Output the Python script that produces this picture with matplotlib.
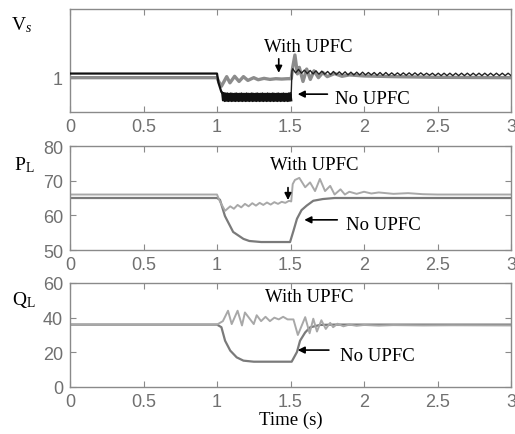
import numpy as np
import matplotlib
matplotlib.use("Agg")
import matplotlib.pyplot as plt

plt.rcParams['mathtext.fontset'] = 'custom'
plt.rcParams['mathtext.rm'] = 'Liberation Serif'
plt.rcParams['mathtext.it'] = 'Liberation Serif:italic'

# ---------------- data ----------------
x_ticks = [0, 0.5, 1, 1.5, 2, 2.5, 3]
x_ticklabels = ['0', '0.5', '1', '1.5', '2', '2.5', '3']

# Vs, No UPFC (black): steady parts + high-frequency band during fault + post-fault ripple
vs_no_t_pre = [0.0, 1.0, 1.01, 1.03]
vs_no_v_pre = [1.012, 1.012, 0.985, 0.958]
vs_no_band_hi = [0.957, 0.955, 0.954, 0.954, 0.953, 0.954, 0.953, 0.953, 0.954, 0.953,
                 0.953, 0.954, 0.953, 0.953, 0.954, 0.953, 0.953, 0.954, 0.953, 0.953,
                 0.954, 0.953, 0.953, 0.954, 0.953, 0.953, 0.954, 0.953, 0.953, 0.954,
                 0.953, 0.953, 0.954, 0.953, 0.953, 0.954, 0.953, 0.953, 0.954, 0.955]
vs_no_band_lo = [0.934, 0.932, 0.933, 0.932, 0.933, 0.932, 0.933, 0.932, 0.933, 0.932,
                 0.933, 0.932, 0.933, 0.932, 0.933, 0.932, 0.933, 0.932, 0.933, 0.932,
                 0.933, 0.932, 0.933, 0.932, 0.933, 0.932, 0.933, 0.932, 0.933, 0.932,
                 0.933, 0.932, 0.933, 0.932, 0.933, 0.932, 0.933, 0.932, 0.933, 0.934]
vs_no_post_hi = [1.026, 1.024, 1.022, 1.021, 1.020, 1.019, 1.018, 1.018, 1.017, 1.017,
                 1.016, 1.016, 1.016, 1.015, 1.015, 1.015, 1.015, 1.014, 1.014, 1.014,
                 1.014, 1.014, 1.014, 1.013, 1.013, 1.013, 1.013, 1.013, 1.013, 1.013,
                 1.013, 1.013, 1.013, 1.013, 1.013, 1.013, 1.013, 1.013]
vs_no_post_lo = [1.014, 1.013, 1.012, 1.011, 1.010, 1.010, 1.009, 1.009, 1.009, 1.008,
                 1.008, 1.008, 1.008, 1.008, 1.007, 1.007, 1.007, 1.007, 1.007, 1.007,
                 1.007, 1.007, 1.007, 1.007, 1.006, 1.006, 1.006, 1.006, 1.006, 1.006,
                 1.006, 1.006, 1.006, 1.006, 1.006, 1.006, 1.006, 1.006]

# Vs, With UPFC (gray)
vs_up_t = [0.0, 1.0, 1.01, 1.03, 1.066, 1.088, 1.12, 1.15, 1.18, 1.21, 1.25, 1.28, 1.32,
           1.36, 1.40, 1.44, 1.48, 1.505, 1.515, 1.53, 1.547, 1.56, 1.585, 1.61, 1.635,
           1.66, 1.69, 1.72, 1.75, 1.8, 1.85, 1.9, 2.0, 2.2, 2.5, 3.0]
vs_up_v = [1.0, 1.0, 0.99, 0.975, 1.003, 0.985, 1.004, 0.989, 1.003, 0.992, 1.0, 0.994, 0.998,
           0.995, 0.997, 0.996, 0.997, 0.997, 1.03, 1.066, 1.011, 1.03, 0.989, 1.025, 0.995,
           1.02, 1.0, 1.015, 1.003, 1.012, 1.004, 1.008, 1.005, 1.003, 1.001, 1.0]

# PL
pl_no_t = [0.0, 1.0, 1.02, 1.054, 1.11, 1.18, 1.22, 1.3, 1.497, 1.52, 1.544, 1.575, 1.61,
           1.655, 1.72, 1.8, 3.0]
pl_no_v = [65, 65, 64.5, 59.8, 55.2, 53.2, 52.6, 52.3, 52.3, 55.5, 59, 61.5, 62.8,
           64.2, 64.7, 65, 65]
pl_up_t = [0.0, 1.0, 1.02, 1.055, 1.09, 1.115, 1.14, 1.165, 1.19, 1.215, 1.24, 1.265, 1.29,
           1.315, 1.34, 1.365, 1.39, 1.415, 1.44, 1.465, 1.49, 1.505, 1.515, 1.53, 1.56,
           1.6, 1.633, 1.667, 1.70, 1.735, 1.77, 1.8, 1.84, 1.87, 1.9, 1.95, 2.0, 2.05,
           2.1, 2.2, 2.3, 2.4, 2.5, 3.0]
pl_up_v = [66, 66, 64, 61.3, 62.6, 61.9, 63.0, 62.3, 63.3, 62.6, 63.5, 62.8, 63.6,
           63.0, 63.7, 63.1, 63.8, 63.3, 63.9, 63.6, 64.2, 64.0, 69.0, 70.2, 70.8,
           68.1, 69.5, 67.0, 70.5, 67.0, 68.5, 66.0, 67.5, 66.0, 66.8, 66.2, 66.8, 66.3,
           66.6, 66.2, 66.4, 66.1, 66.0, 66.0]

# QL
ql_no_t = [0.0, 1.0, 1.03, 1.055, 1.09, 1.134, 1.18, 1.25, 1.508, 1.544, 1.565, 1.6,
           1.633, 1.7, 1.8, 3.0]
ql_no_v = [36, 36, 34.5, 26.7, 21, 17.1, 15.2, 14.6, 14.6, 20.2, 26.7, 31.5,
           34.4, 35.8, 36, 36]
ql_up_t = [0.0, 1.0, 1.04, 1.075, 1.10, 1.14, 1.17, 1.19, 1.25, 1.27, 1.30, 1.33, 1.36,
           1.39, 1.42, 1.45, 1.48, 1.52, 1.55, 1.60, 1.63, 1.655, 1.68, 1.71, 1.74, 1.77,
           1.79, 1.82, 1.86, 1.9, 1.95, 2.0, 2.1, 2.2, 2.4, 2.6, 3.0]
ql_up_v = [36, 36, 38, 44, 36.3, 44, 35.5, 43, 36.3, 41.4, 38, 40.5, 38,
           40, 39, 40.5, 39, 39, 30.0, 40.3, 31.0, 39.4, 32, 38.5, 33.5, 37,
           34.5, 36.5, 35, 36, 35.3, 35.8, 35.4, 35.7, 35.5, 35.6, 35.5]

# ---------------- figure ----------------
W, H = 515, 435
fig = plt.figure(figsize=(W / 100, H / 100), dpi=100)

def px_axes(top, bottom, left=70, right=511):
    return fig.add_axes([left / W, 1 - bottom / H, (right - left) / W, (bottom - top) / H])

frame_c = '#8a8a8a'
tick_c = '#707070'
serif = 'Liberation Serif'
sans = 'Liberation Sans'

def style(ax, ylim, yticks, yticklabels):
    ax.set_xlim(0, 3)
    ax.set_ylim(*ylim)
    ax.set_xticks(x_ticks)
    ax.set_xticklabels(x_ticklabels)
    ax.set_yticks(yticks)
    ax.set_yticklabels(yticklabels)
    for s in ax.spines.values():
        s.set_color(frame_c)
        s.set_linewidth(1.0)
    ax.tick_params(direction='in', top=True, right=True, length=4, color=frame_c,
                   labelcolor=tick_c, labelsize=13, pad=4)
    ax.tick_params(axis='y', pad=5)
    for lab in ax.get_xticklabels() + ax.get_yticklabels():
        lab.set_fontfamily(sans)

# --- top: Vs
ax1 = px_axes(10, 113)
band_t = np.linspace(1.035, 1.505, 2 * len(vs_no_band_hi))
band_v = np.column_stack([vs_no_band_hi, vs_no_band_lo]).ravel()
post_t = np.linspace(1.515, 3.0, 2 * len(vs_no_post_hi))
post_v = np.column_stack([vs_no_post_hi, vs_no_post_lo]).ravel()
ax1.plot(vs_up_t, vs_up_v, color='#8c8c8c', lw=2.4, zorder=2)
ax1.plot(np.concatenate([vs_no_t_pre, band_t]), np.concatenate([vs_no_v_pre, band_v]),
         color='#111111', lw=1.6, zorder=3)
ax1.plot(np.concatenate([[1.505, 1.51], post_t]),
         np.concatenate([[0.955, 1.02], post_v]), color='#222222', lw=1.0, zorder=3)
style(ax1, (0.9, 1.2), [1], ['1'])
ax1.text(1.62, 1.09, 'With UPFC', fontfamily=serif, fontsize=13.5, ha='center', va='center')
ax1.annotate('', xy=(1.42, 1.006), xytext=(1.42, 1.063),
             arrowprops=dict(arrowstyle='-|>', color='black', lw=1.2, mutation_scale=10))
ax1.text(1.80, 0.938, 'No UPFC', fontfamily=serif, fontsize=13.5, ha='left', va='center')
ax1.annotate('', xy=(1.53, 0.952), xytext=(1.77, 0.952),
             arrowprops=dict(arrowstyle='-|>', color='black', lw=1.2, mutation_scale=10))

# --- middle: PL
ax2 = px_axes(147, 251)
ax2.plot(pl_no_t, pl_no_v, color='#7a7a7a', lw=1.6)
ax2.plot(pl_up_t, pl_up_v, color='#a8a8a8', lw=1.4)
style(ax2, (50, 80), [50, 60, 70, 80], ['50', '60', '70', '80'])
ax2.text(1.66, 74.6, 'With UPFC', fontfamily=serif, fontsize=13.5, ha='center', va='center')
ax2.annotate('', xy=(1.483, 63.6), xytext=(1.483, 68.8),
             arrowprops=dict(arrowstyle='-|>', color='black', lw=1.2, mutation_scale=10))
ax2.text(1.88, 57.5, 'No UPFC', fontfamily=serif, fontsize=13.5, ha='left', va='center')
ax2.annotate('', xy=(1.575, 58.7), xytext=(1.837, 58.7),
             arrowprops=dict(arrowstyle='-|>', color='black', lw=1.2, mutation_scale=10))

# --- bottom: QL
ax3 = px_axes(284, 388)
ax3.plot(ql_no_t, ql_no_v, color='#7a7a7a', lw=1.6)
ax3.plot(ql_up_t, ql_up_v, color='#a8a8a8', lw=1.4)
style(ax3, (0, 60), [0, 20, 40, 60], ['0', '20', '40', '60'])
ax3.text(1.63, 52.5, 'With UPFC', fontfamily=serif, fontsize=13.5, ha='center', va='center')
ax3.text(1.837, 17.9, 'No UPFC', fontfamily=serif, fontsize=13.5, ha='left', va='center')
ax3.annotate('', xy=(1.53, 21.3), xytext=(1.78, 21.3),
             arrowprops=dict(arrowstyle='-|>', color='black', lw=1.2, mutation_scale=10))
ax3.set_xlabel('Time (s)', fontfamily=serif, fontsize=13.5, labelpad=1)

# y labels
fig.text(22 / W, 1 - 25 / H, r'$\mathrm{V}_s$', fontsize=14, ha='center', va='center')
fig.text(24 / W, 1 - 165 / H, r'$\mathrm{P}_\mathrm{L}$', fontsize=14, ha='center', va='center')
fig.text(24 / W, 1 - 300 / H, r'$\mathrm{Q}_\mathrm{L}$', fontsize=14, ha='center', va='center')

fig.savefig('out.png', dpi=100, facecolor='white')
